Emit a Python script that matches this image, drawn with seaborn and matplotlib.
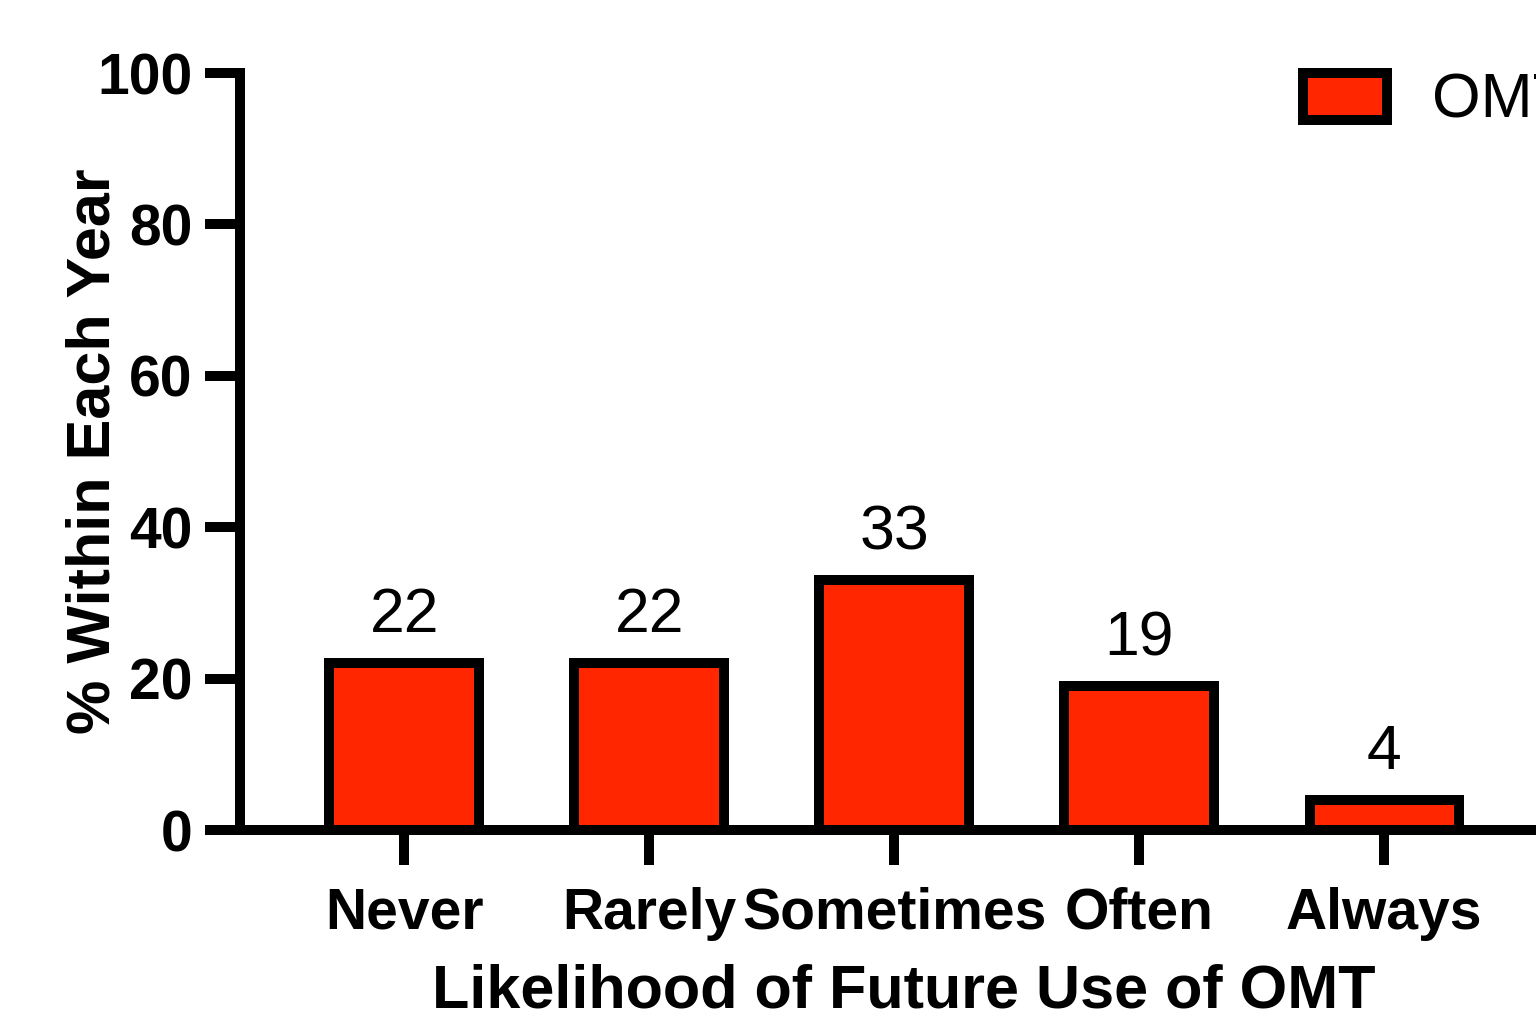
import matplotlib
matplotlib.use("Agg")
import matplotlib.pyplot as plt
import pandas as pd
import seaborn as sns
from matplotlib.patches import Patch


CATEGORIES = ["Never", "Rarely", "Sometimes", "Often", "Always"]
PERCENTS = [22, 22, 33, 19, 4]
SERIES_NAME = "OMT"
Y_TICKS = [0, 20, 40, 60, 80, 100]
BAR_COLOR = "#FF2600"


def main() -> None:
    sns.set_style("ticks")
    plt.rcParams["font.family"] = ["Liberation Sans", "DejaVu Sans"]
    plt.rcParams["text.color"] = "black"
    plt.rcParams["axes.labelcolor"] = "black"
    plt.rcParams["xtick.color"] = "black"
    plt.rcParams["ytick.color"] = "black"
    plt.rcParams["axes.edgecolor"] = "black"

    df = pd.DataFrame({"likelihood": CATEGORIES, "percent": PERCENTS})

    fig = plt.figure(figsize=(15.36, 10.10), dpi=100)
    ax = fig.add_axes([240 / 1536, 180 / 1010, 1328 / 1536, 757 / 1010])

    sns.barplot(
        data=df,
        x="likelihood",
        y="percent",
        color=BAR_COLOR,
        saturation=1,
        width=0.61,
        edgecolor="black",
        linewidth=7.2,
        ax=ax,
    )

    ax.set_xlim(-0.67, 4.75)
    ax.set_ylim(0, 100)
    ax.set_yticks(Y_TICKS)

    for container in ax.containers:
        ax.bar_label(container, labels=[str(v) for v in PERCENTS],
                     padding=13, fontsize=45, color="black")

    sns.despine(ax=ax)
    for side in ("left", "bottom"):
        ax.spines[side].set_linewidth(7.2)
        ax.spines[side].set_color("black")
        ax.spines[side].set_capstyle("projecting")
    ax.tick_params(axis="both", width=7.2, length=25, color="black",
                   labelcolor="black")
    ax.tick_params(axis="y", pad=9)
    ax.tick_params(axis="x", pad=16)
    for lbl in ax.get_xticklabels() + ax.get_yticklabels():
        lbl.set_fontsize(41)
        lbl.set_fontweight("bold")

    ax.set_xlabel("Likelihood of Future Use of OMT", fontsize=44,
                  fontweight="bold", labelpad=16, color="black")
    ax.set_ylabel("% Within Each Year", fontsize=44, fontweight="bold",
                  labelpad=-18, color="black")

    handle = Patch(facecolor=BAR_COLOR, edgecolor="black", linewidth=7.2)
    fig.legend(
        handles=[handle],
        labels=[SERIES_NAME],
        loc="upper left",
        bbox_to_anchor=(1303 / 1536, 1 - 72 / 1010),
        frameon=False,
        fontsize=45,
        handlelength=1.35,
        handleheight=0.78,
        handletextpad=0.72,
        borderpad=0,
        borderaxespad=0,
    )

    fig.savefig("out.png", dpi=100)


if __name__ == "__main__":
    main()
